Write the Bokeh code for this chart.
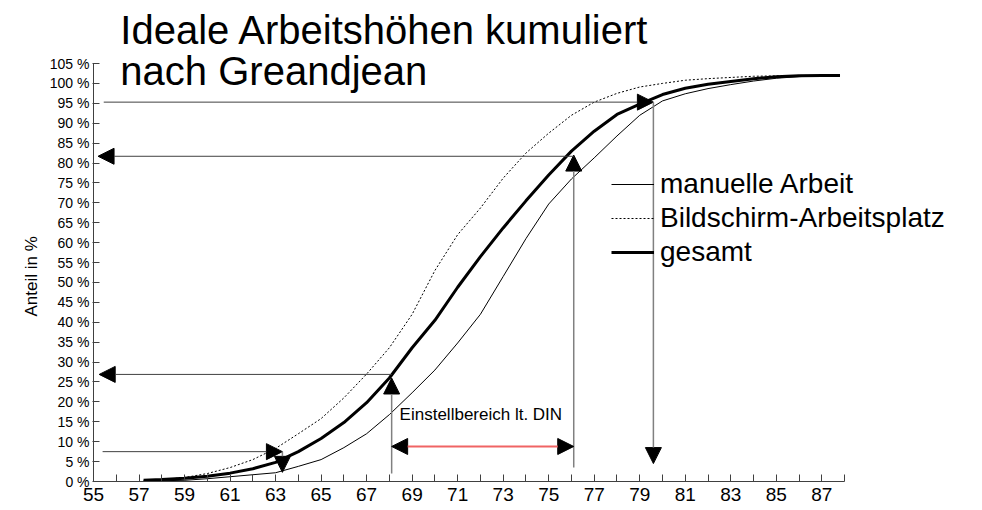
from bokeh.plotting import figure
from bokeh.models import Range1d, FixedTicker, Label, Arrow, NormalHead, Legend, LegendItem
from bokeh.embed import file_html
from bokeh.resources import INLINE

# ---- data ----
x_vals = [57.2] + list(range(58, 88)) + [87.8]
manuelle = [0.1, 0.2, 0.3, 0.7, 1.2, 1.7, 2.2, 3.8, 5.5, 8.5, 12, 16.8, 22.3, 28, 34.8, 42,
            51.5, 61, 69.7, 76, 81.3, 86.8, 92, 95.6, 97.4, 98.7, 99.7, 100.6, 101.3, 101.7, 102, 102]
bildschirm = [0.2, 0.5, 1.0, 2.0, 3.5, 5.5, 8.3, 12, 15.8, 21, 27, 33.6, 42, 53, 62, 68.7,
              76.2, 82.5, 87.5, 92, 95.3, 97.5, 99.1, 100, 100.8, 101.2, 101.5, 101.8, 101.9, 102, 102, 102]
gesamt = [0.3, 0.5, 0.8, 1.3, 2.1, 3.2, 4.8, 7.5, 10.8, 14.8, 19.8, 26, 33.6, 40.5, 48.8, 56.5,
          63.7, 70.5, 77, 83, 88, 92.2, 94.8, 97.2, 98.8, 99.8, 100.5, 101.2, 101.7, 101.9, 102, 102]

x_major = list(range(55, 89, 2))
x_minor = list(range(56, 89, 2))
y_ticks = list(range(0, 106, 5))
y_labels = [f"{v} %" for v in y_ticks]

title_lines = ["Ideale Arbeitshöhen kumuliert", "nach Greandjean"]
series_names = ["manuelle Arbeit", "Bildschirm-Arbeitsplatz", "gesamt"]
range_text = "Einstellbereich lt. DIN"
y_title = "Anteil in %"

# reading lines: (x_start, y_start, x_end, y_end, kind)
reading_arrows = [
    (55.45, 95.3, 79.6, 95.3, "h"),
    (79.6, 95.3, 79.6, 4.5, "v"),
    (76.1, 3.5, 76.1, 82.0, "v"),
    (76.1, 81.7, 55.2, 81.7, "h"),
    (68.1, 2.0, 68.1, 26.0, "v"),
    (68.1, 26.9, 55.25, 26.9, "h"),
    (55.4, 7.5, 63.3, 7.5, "h"),
    (63.3, 7.5, 63.3, 2.3, "v"),
]
din_range = (68.1, 76.1, 8.8)

FONT = "Liberation Sans"

# frame spans to the canvas top/right so that title and legend texts are not clipped;
# the axes themselves are bounded to 55..88 and 0..105 %
p = figure(width=982, height=510, x_range=Range1d(55, 94.06), y_range=Range1d(0, 120.83),
           output_backend="svg", toolbar_location=None,
           min_border_left=93, min_border_right=0, min_border_top=0, min_border_bottom=29)
p.outline_line_color = None
p.xgrid.grid_line_color = None
p.ygrid.grid_line_color = None

# axes
p.xaxis.bounds = (55, 88)
p.xaxis.ticker = FixedTicker(ticks=x_major, minor_ticks=x_minor)
p.xaxis.major_label_text_font = FONT
p.xaxis.major_label_text_font_size = "19px"
p.xaxis.major_label_text_color = "black"
p.xaxis.major_label_standoff = 6
p.xaxis.major_tick_in = 7
p.xaxis.major_tick_out = 0
p.xaxis.minor_tick_in = 7
p.xaxis.minor_tick_out = 0
p.xaxis.axis_line_color = "#404040"
p.xaxis.major_tick_line_color = "#404040"
p.xaxis.minor_tick_line_color = "#404040"

p.yaxis.bounds = (0, 105)
p.yaxis.ticker = FixedTicker(ticks=y_ticks, minor_ticks=[])
p.yaxis.major_label_overrides = {v: lab for v, lab in zip(y_ticks, y_labels)}
p.yaxis.major_label_text_font = FONT
p.yaxis.major_label_text_font_size = "14px"
p.yaxis.major_label_text_color = "black"
p.yaxis.major_label_standoff = 3
p.yaxis.major_tick_in = 6
p.yaxis.major_tick_out = 1
p.yaxis.axis_line_color = "#404040"
p.yaxis.major_tick_line_color = "#404040"
# trailing no-break spaces move the visible label down to the middle of the 0..105 % axis
p.yaxis.axis_label = y_title + "\u00a0" * 15
p.yaxis.axis_label_text_font = FONT
p.yaxis.axis_label_text_font_size = "17px"
p.yaxis.axis_label_text_font_style = "normal"
p.yaxis.axis_label_text_color = "black"
p.yaxis.axis_label_standoff = 6

# curves
r1 = p.line(x_vals, manuelle, line_color="black", line_width=1)
r2 = p.line(x_vals, bildschirm, line_color="black", line_width=1, line_dash="2 2")
r3 = p.line(x_vals, gesamt, line_color="black", line_width=3)

legend = Legend(items=[LegendItem(label=series_names[0], renderers=[r1]),
                       LegendItem(label=series_names[1], renderers=[r2]),
                       LegendItem(label=series_names[2], renderers=[r3])],
                location=(518, 213), orientation="vertical",
                glyph_width=43, glyph_height=20, label_standoff=6,
                label_text_font=FONT, label_text_font_size="28px", label_text_color="black",
                padding=0, margin=0, spacing=2,
                background_fill_alpha=0, border_line_alpha=0)
p.add_layout(legend, "center")

# reading arrows
for xs, ys, xe, ye, kind in reading_arrows:
    col = "#404040" if kind == "h" else "#808080"
    lw = 1 if kind == "h" else 1.5
    p.add_layout(Arrow(end=NormalHead(size=16, fill_color="black", line_color="black"),
                       x_start=xs, y_start=ys, x_end=xe, y_end=ye,
                       line_color=col, line_width=lw))

x0, x1, yd = din_range
p.add_layout(Arrow(start=NormalHead(size=16, fill_color="black", line_color="black"),
                   end=NormalHead(size=16, fill_color="black", line_color="black"),
                   x_start=x0, y_start=yd, x_end=x1, y_end=yd,
                   line_color="#f06464", line_width=2))

p.add_layout(Label(x=68.45, y=16.8, text=range_text, text_font=FONT, text_color="black",
                   text_font_size="17px", text_baseline="alphabetic", text_align="left"))

# title
p.add_layout(Label(x=56.18, y=113.4, text=title_lines[0], text_font=FONT, text_color="black",
                   text_font_size="40px", text_baseline="alphabetic", text_align="left"))
p.add_layout(Label(x=56.18, y=103.1, text=title_lines[1], text_font=FONT, text_color="black",
                   text_font_size="40px", text_baseline="alphabetic", text_align="left"))

open("out.html", "w").write(file_html(p, INLINE))
